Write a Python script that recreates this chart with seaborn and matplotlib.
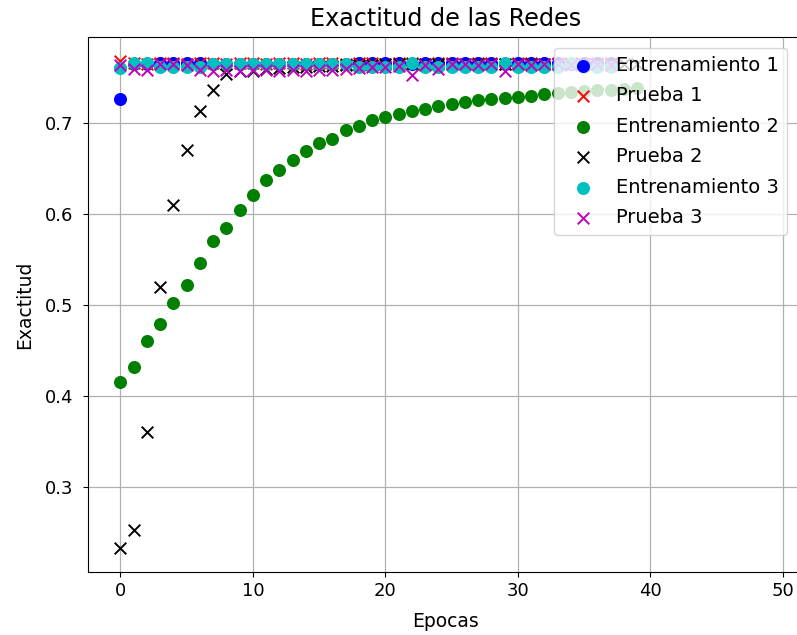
import numpy as np
import pandas as pd
import matplotlib
matplotlib.use("Agg")
import matplotlib.pyplot as plt
import seaborn as sns

# Epochs actually run by each network (early stopping ends them at different points)
epocas_red_1 = list(range(38))
epocas_red_2 = list(range(40))
epocas_red_3 = list(range(38))
epocas_totales = 50

entrenamiento_1 = [0.727, 0.7655, 0.7655, 0.766, 0.766, 0.766, 0.766, 0.7655, 0.7655, 0.7655,
                   0.7655, 0.7655, 0.7655, 0.7655, 0.7655, 0.7655, 0.7655, 0.7655, 0.766, 0.766,
                   0.766, 0.766, 0.7655, 0.766, 0.766, 0.766, 0.766, 0.766, 0.766, 0.7655,
                   0.766, 0.766, 0.766, 0.766, 0.7655, 0.766, 0.766, 0.766]

prueba_1 = [0.768, 0.766, 0.765, 0.766, 0.766, 0.765, 0.766, 0.766, 0.765, 0.766,
            0.766, 0.765, 0.766, 0.766, 0.765, 0.766, 0.766, 0.765, 0.766, 0.766,
            0.765, 0.766, 0.766, 0.765, 0.766, 0.766, 0.765, 0.766, 0.766, 0.765,
            0.766, 0.766, 0.765, 0.766, 0.766, 0.765, 0.766, 0.766]

entrenamiento_2 = [0.415, 0.432, 0.460, 0.479, 0.502, 0.522, 0.546, 0.570, 0.585, 0.605,
                   0.621, 0.637, 0.648, 0.660, 0.669, 0.678, 0.683, 0.693, 0.697, 0.704,
                   0.707, 0.710, 0.713, 0.716, 0.719, 0.721, 0.723, 0.725, 0.727, 0.728,
                   0.729, 0.730, 0.732, 0.733, 0.734, 0.735, 0.736, 0.737, 0.738, 0.739]

prueba_2 = [0.233, 0.252, 0.360, 0.520, 0.610, 0.670, 0.713, 0.736, 0.754, 0.757,
            0.757, 0.760, 0.761, 0.762, 0.762, 0.763, 0.763, 0.764, 0.764, 0.764,
            0.765, 0.765, 0.765, 0.765, 0.765, 0.765, 0.765, 0.765, 0.765, 0.765,
            0.765, 0.765, 0.765, 0.765, 0.765, 0.765, 0.765, 0.765, 0.765, 0.765]

entrenamiento_3 = [0.761, 0.766, 0.766, 0.7615, 0.7615, 0.7615, 0.7615, 0.7655, 0.7655, 0.7655,
                   0.7655, 0.7655, 0.7655, 0.7655, 0.7655, 0.7655, 0.7655, 0.7655, 0.7615, 0.7615,
                   0.7615, 0.7615, 0.766, 0.7615, 0.7615, 0.7615, 0.7615, 0.7615, 0.7615, 0.766,
                   0.7615, 0.7615, 0.7615, 0.7615, 0.766, 0.7615, 0.7615, 0.7615]

prueba_3 = [0.764, 0.760, 0.759, 0.765, 0.765, 0.764, 0.759, 0.757, 0.758, 0.757,
            0.759, 0.758, 0.757, 0.758, 0.757, 0.759, 0.758, 0.760, 0.761, 0.762,
            0.762, 0.763, 0.7535, 0.764, 0.760, 0.765, 0.765, 0.764, 0.765, 0.757,
            0.765, 0.764, 0.765, 0.765, 0.764, 0.765, 0.765, 0.764]

series = [
    ("Entrenamiento 1", epocas_red_1, entrenamiento_1, "b", "o"),
    ("Prueba 1", epocas_red_1, prueba_1, "r", "x"),
    ("Entrenamiento 2", epocas_red_2, entrenamiento_2, "g", "o"),
    ("Prueba 2", epocas_red_2, prueba_2, "k", "x"),
    ("Entrenamiento 3", epocas_red_3, entrenamiento_3, "c", "o"),
    ("Prueba 3", epocas_red_3, prueba_3, "m", "x"),
]

plt.rcParams["font.family"] = ["DejaVu Sans"]
plt.rcParams["font.size"] = 13.5

fig = plt.figure(figsize=(7.97, 6.35), dpi=100)
ax = fig.add_axes([0.1104, 0.0992, 0.8961, 0.8425])

for nombre, x, valores, color, marcador in series:
    df = pd.DataFrame({"Epocas": x, "Exactitud": valores})
    if marcador == "o":
        sns.scatterplot(data=df, x="Epocas", y="Exactitud", ax=ax, color=color,
                        marker="o", s=88, linewidth=0, label=nombre)
    else:
        sns.scatterplot(data=df, x="Epocas", y="Exactitud", ax=ax, color=color,
                        marker="x", s=70, linewidth=1.4, label=nombre)

margen = 0.05 * (epocas_totales - 1)
ax.set_xlim(-margen, epocas_totales - 1 + margen)
ax.spines["right"].set_visible(False)

ax.grid(True, color="#b0b0b0", linewidth=0.9)
ax.set_axisbelow(True)
ax.set_xticks([0, 10, 20, 30, 40, 50])
ax.set_yticks([0.3, 0.4, 0.5, 0.6, 0.7])
ax.set_title("Exactitud de las Redes", fontsize=17.2, pad=8)
ax.set_xlabel("Epocas", fontsize=13.5, labelpad=9)
ax.set_ylabel("Exactitud", fontsize=13.5, labelpad=8)
ax.tick_params(labelsize=13)
ax.tick_params(axis="y", pad=7)

ax.legend(loc="upper right", bbox_to_anchor=(787 / 797, 1 - 48 / 635),
          bbox_transform=fig.transFigure, borderaxespad=0, fontsize=14,
          framealpha=0.8, handlelength=2.2, handletextpad=0.6,
          labelspacing=0.59)

fig.savefig("out.png", dpi=100)
